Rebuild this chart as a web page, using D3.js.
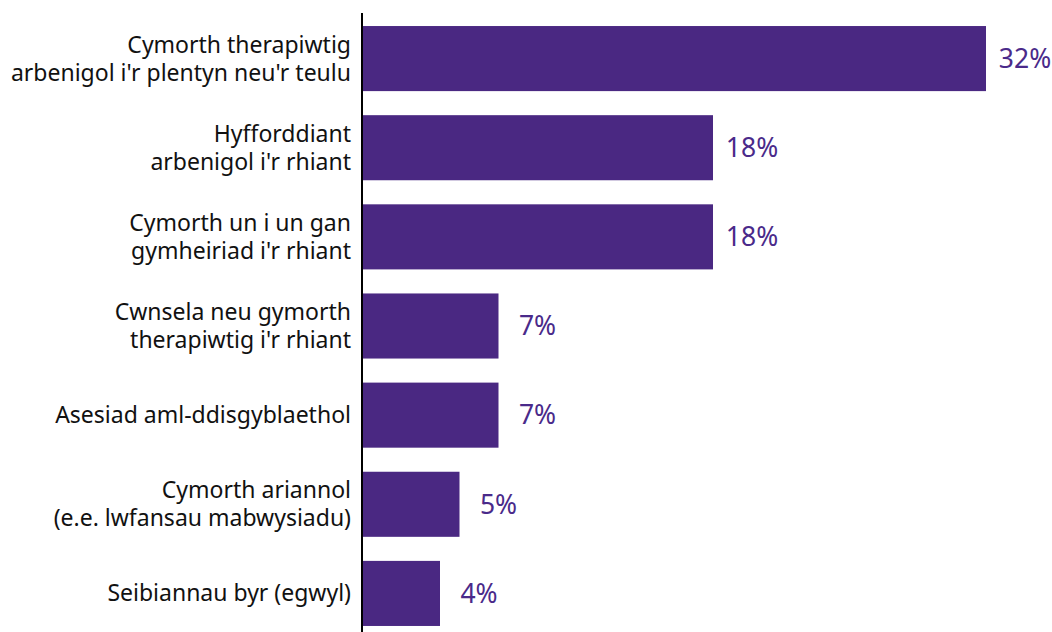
<!DOCTYPE html>
<html><head><meta charset="utf-8">
<script src="https://cdn.jsdelivr.net/npm/d3@7"></script>
<style>body{margin:0;background:#fff}svg{display:block}</style>
</head><body>
<svg id="c" width="1052" height="632"></svg>
<script>
const categories = [
  ["Cymorth therapiwtig", "arbenigol i'r plentyn neu'r teulu"],
  ["Hyfforddiant", "arbenigol i'r rhiant"],
  ["Cymorth un i un gan", "gymheiriad i'r rhiant"],
  ["Cwnsela neu gymorth", "therapiwtig i'r rhiant"],
  ["Asesiad aml-ddisgyblaethol"],
  ["Cymorth ariannol", "(e.e. lwfansau mabwysiadu)"],
  ["Seibiannau byr (egwyl)"]
];
const values = [32, 18, 18, 7, 7, 5, 4];
const valueLabels = ["32%", "18%", "18%", "7%", "7%", "5%", "4%"];

const svg = d3.select("#c");
const x0 = 362;
const x = d3.scaleLinear().domain([0, 32]).range([x0, 986]);
const y = d3.scaleBand().domain(d3.range(values.length)).range([14, 638]).paddingInner(0.27).paddingOuter(0.135);
const color = "#4a2882";
const font = "'Noto Sans', 'Open Sans', sans-serif";

svg.selectAll("rect.bar").data(values).join("rect")
  .attr("class", "bar")
  .attr("x", x(0)).attr("y", (d, i) => y(i))
  .attr("width", d => x(d) - x(0)).attr("height", y.bandwidth())
  .attr("fill", color);

svg.append("line").attr("x1", x0).attr("x2", x0).attr("y1", 13).attr("y2", 632)
  .attr("stroke", "#000").attr("stroke-width", 2);

const lh = 28;
svg.selectAll("text.cat").data(categories).join("text")
  .attr("class", "cat")
  .attr("text-anchor", "end")
  .attr("font-family", font).attr("font-size", 23).attr("fill", "#111")
  .each(function(lines, i) {
    const cy = y(i) + y.bandwidth() / 2;
    const start = cy - (lines.length - 1) * lh / 2;
    d3.select(this).selectAll("tspan").data(lines).join("tspan")
      .attr("x", 351).attr("y", (l, j) => start + j * lh).attr("dy", "0.35em").text(l => l);
  });

svg.selectAll("text.val").data(values).join("text")
  .attr("class", "val")
  .attr("text-anchor", "middle")
  .attr("x", d => x(d) + 39).attr("y", (d, i) => y(i) + y.bandwidth() / 2)
  .attr("dy", "0.35em")
  .attr("font-family", font).attr("font-size", 26.5).attr("fill", "#4a2a8a")
  .text((d, i) => valueLabels[i]);
</script>
</body></html>
